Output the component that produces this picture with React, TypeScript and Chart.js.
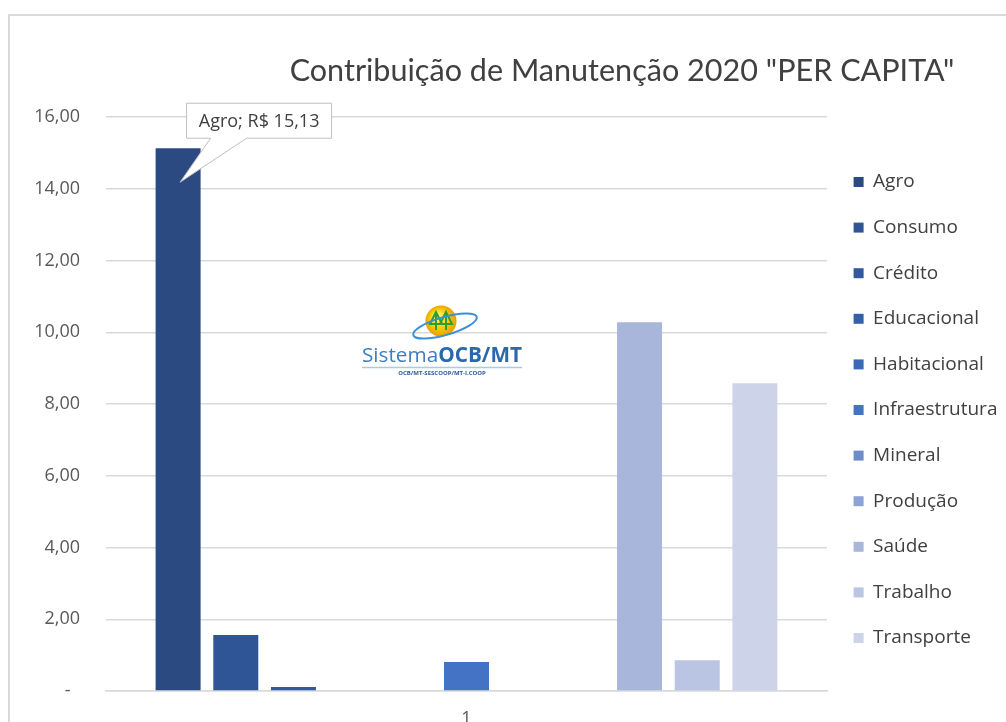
import React, { useEffect, useRef } from 'react';
import { Chart, registerables } from 'chart.js';

Chart.register(...registerables);

const categories = ['1'];
const seriesNames = ['Agro', 'Consumo', 'Crédito', 'Educacional', 'Habitacional', 'Infraestrutura', 'Mineral', 'Produção', 'Saúde', 'Trabalho', 'Transporte'];
const seriesValues = [15.13, 1.56, 0.11, 0, 0, 0.81, 0, 0, 10.28, 0.86, 8.58];
const seriesColors = ['#2b4a82', '#2f5597', '#30599f', '#3561ab', '#3a69b8', '#4472c4', '#6d8ccb', '#8ea3d5', '#a8b6dc', '#bac4e3', '#cdd4ea'];
const titleText = 'Contribuição de Manutenção 2020 "PER CAPITA"';
const calloutText = 'Agro; R$ 15,13';
const yMin = 0;
const yMax = 16;
const yStep = 2;

const fmt = (v: number) => (v === 0 ? '-  ' : v.toFixed(2).replace('.', ','));

const titlePlugin = {
  id: 'customTitle',
  afterDraw(chart: any) {
    const ctx = chart.ctx;
    ctx.save();
    const target = 665;
    ctx.font = '30px Lato';
    const w = ctx.measureText(titleText).width;
    const size = 30 * target / w;
    ctx.font = `${size}px Lato`;
    ctx.fillStyle = '#404040';
    ctx.textAlign = 'center';
    ctx.textBaseline = 'middle';
    ctx.fillText(titleText, 622, 71);
    ctx.restore();
  },
};

const logoPlugin = {
  id: 'logo',
  beforeDatasetsDraw(chart: any) {
    const ctx = chart.ctx;
    ctx.save();
    const cx = 441, cy = 321;
    const g = ctx.createRadialGradient(cx - 4, cy - 5, 2, cx, cy, 16);
    g.addColorStop(0, '#fff27a');
    g.addColorStop(0.6, '#f7c600');
    g.addColorStop(1, '#e89a00');
    ctx.fillStyle = g;
    ctx.beginPath();
    ctx.arc(cx, cy, 15.5, 0, Math.PI * 2);
    ctx.fill();
    ctx.strokeStyle = '#2f9e2f';
    ctx.lineWidth = 2;
    const tree = (x: number) => {
      ctx.beginPath();
      ctx.moveTo(x, cy - 9);
      ctx.lineTo(x - 6, cy + 3);
      ctx.lineTo(x + 6, cy + 3);
      ctx.closePath();
      ctx.moveTo(x, cy - 9);
      ctx.lineTo(x, cy + 9);
      ctx.stroke();
    };
    tree(436);
    tree(446);
    ctx.strokeStyle = '#3d8fd6';
    ctx.lineWidth = 2;
    ctx.beginPath();
    ctx.ellipse(445, 326, 33, 9, -0.28, 0, Math.PI * 2);
    ctx.stroke();
    ctx.textBaseline = 'alphabetic';
    ctx.textAlign = 'left';
    ctx.font = '21px "Open Sans"';
    const w1 = ctx.measureText('Sistema').width;
    ctx.font = 'bold 21px "Open Sans"';
    const w2 = ctx.measureText('OCB/MT').width;
    const total = 160;
    const sc = total / (w1 + w2);
    const fs = 21 * sc;
    const x0 = 362;
    ctx.font = `${fs}px "Open Sans"`;
    ctx.fillStyle = '#3c7ec4';
    ctx.fillText('Sistema', x0, 362);
    ctx.font = `bold ${fs}px "Open Sans"`;
    ctx.fillStyle = '#2a68ad';
    ctx.fillText('OCB/MT', x0 + w1 * sc, 362);
    ctx.strokeStyle = '#a9c8ea';
    ctx.lineWidth = 1.5;
    ctx.beginPath();
    ctx.moveTo(x0, 367.5);
    ctx.lineTo(x0 + total, 367.5);
    ctx.stroke();
    ctx.font = 'bold 6px "Open Sans"';
    ctx.fillStyle = '#2a5a9a';
    ctx.textAlign = 'center';
    ctx.fillText('OCB/MT-SESCOOP/MT-I.COOP', x0 + total / 2, 375);
    ctx.restore();
  },
};

const calloutPlugin = {
  id: 'callout',
  afterDatasetsDraw(chart: any) {
    const meta = chart.getDatasetMeta(0);
    const bar = meta.data[0];
    if (!bar) return;
    const ctx = chart.ctx;
    const bx = bar.x;
    const by = bar.y;
    const left = bx + 8.5;
    const top = by - 45;
    const w = 145;
    const h = 35;
    const tipX = bx + 2;
    const tipY = by + 34;
    ctx.save();
    ctx.beginPath();
    ctx.moveTo(left, top);
    ctx.lineTo(left + w, top);
    ctx.lineTo(left + w, top + h);
    ctx.lineTo(left + 60, top + h);
    ctx.lineTo(tipX, tipY);
    ctx.lineTo(left + 24, top + h);
    ctx.lineTo(left, top + h);
    ctx.closePath();
    ctx.fillStyle = '#ffffff';
    ctx.fill();
    ctx.strokeStyle = '#bfbfbf';
    ctx.lineWidth = 1;
    ctx.stroke();
    ctx.font = '18px "Open Sans"';
    ctx.fillStyle = '#404040';
    ctx.textAlign = 'center';
    ctx.textBaseline = 'middle';
    ctx.fillText(calloutText, left + w / 2, top + h / 2 + 1);
    ctx.restore();
  },
};

export default function App() {
  const ref = useRef<HTMLCanvasElement>(null);
  useEffect(() => {
    if (!ref.current) return;
    const chart = new Chart(ref.current, {
      type: 'bar',
      data: {
        labels: categories,
        datasets: seriesNames.map((name, i) => ({
          label: name,
          data: [seriesValues[i]],
          backgroundColor: seriesColors[i],
          borderWidth: 0,
          categoryPercentage: 0.88,
          barPercentage: 0.78,
        })),
      },
      options: {
        responsive: false,
        animation: false,
        events: [],
        layout: { padding: { top: 117, left: 0, right: 0, bottom: 0 } },
        plugins: {
          title: { display: false },
          tooltip: { enabled: false },
          legend: {
            position: 'right',
            fullSize: false,
            maxWidth: 179,
            title: { display: true, text: ' ', font: { size: 1, lineHeight: 1 }, padding: { top: 0, bottom: 11 } },
            labels: {
              boxWidth: 10,
              boxHeight: 10,
              padding: 26.6,
              color: '#404040',
              font: { family: '"Open Sans"', size: 19 },
              generateLabels: (ch: any) =>
                Chart.defaults.plugins.legend.labels.generateLabels(ch).map((l: any) => ({ ...l, lineWidth: 0 })),
            },
          },
        },
        scales: {
          x: {
            grid: { display: false },
            border: { display: true, color: '#d9d9d9', width: 1.5 },
            ticks: { color: '#595959', font: { family: '"Open Sans"', size: 18 }, padding: 9 },
            afterFit: (s: any) => { s.height = 49; },
          },
          y: {
            min: yMin,
            max: yMax,
            ticks: {
              stepSize: yStep,
              color: '#595959',
              font: { family: '"Open Sans"', size: 18 },
              padding: 26,
              callback: (v: any) => fmt(Number(v)),
            },
            grid: { color: '#d9d9d9', lineWidth: 1.5, drawTicks: false },
            border: { display: false },
            afterFit: (s: any) => { s.width = 106; },
          },
        },
      },
      plugins: [logoPlugin, calloutPlugin, titlePlugin],
    } as any);
    return () => chart.destroy();
  }, []);
  return (
    <div style={{ position: 'fixed', left: 0, top: 0, width: 1006, height: 722, overflow: 'hidden', background: '#fff' }}>
      <div style={{ position: 'absolute', left: 8, top: 14, width: 1200, height: 900, borderTop: '2px solid #d9d9d9', borderLeft: '2px solid #d9d9d9' }} />
      <canvas ref={ref} width={1006} height={740} style={{ position: 'absolute', left: 0, top: 0, width: 1006, height: 740 }} />
    </div>
  );
}
